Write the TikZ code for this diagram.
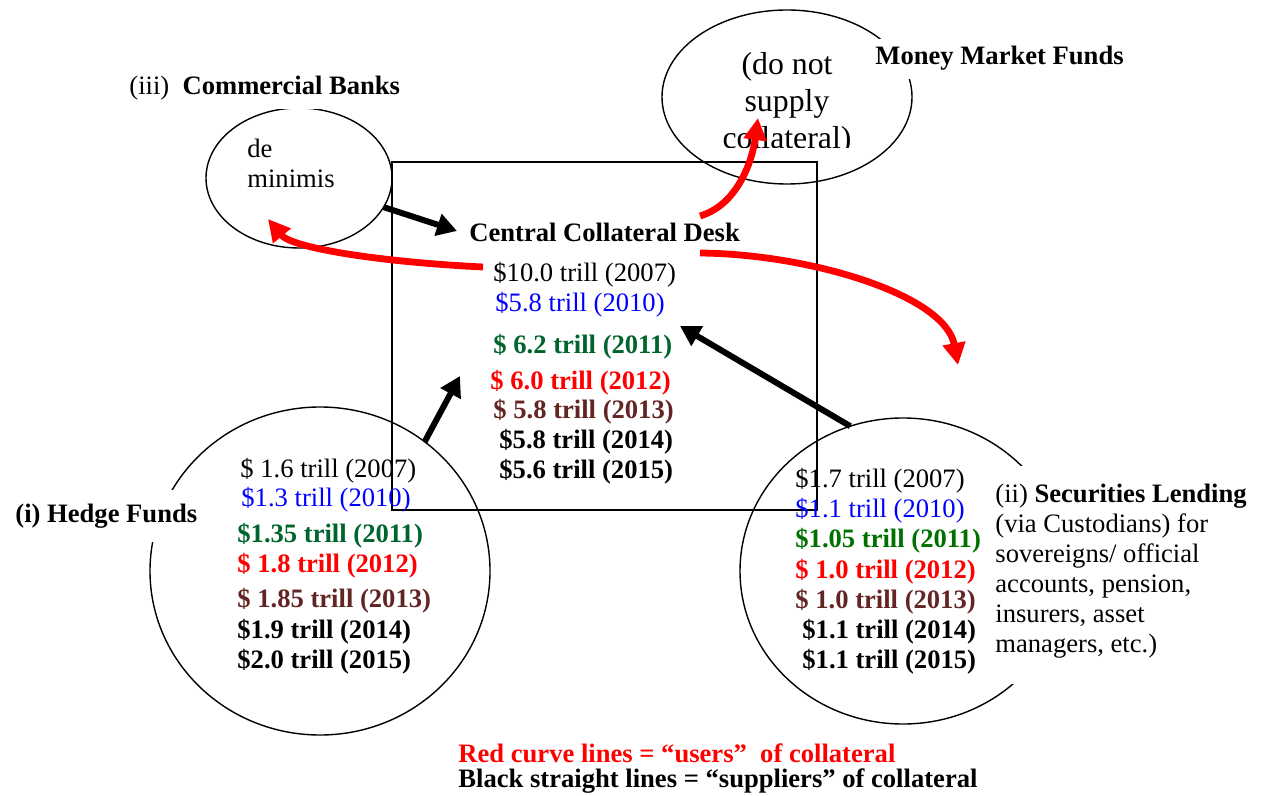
\documentclass[tikz,border=0pt]{standalone}
\usepackage{fontspec}
\setmainfont{Liberation Serif}
\usetikzlibrary{shapes.geometric,arrows.meta}
\definecolor{hgreen}{RGB}{0,100,45}
\definecolor{sgreen}{RGB}{0,112,0}
\definecolor{brn}{RGB}{99,37,35}
\definecolor{blu}{RGB}{0,0,255}
\definecolor{rd}{RGB}{255,0,0}
\begin{document}
\begin{tikzpicture}[x=0.5pt,y=-0.5pt,
  tx/.style={font=\fontsize{13.3}{15}\selectfont, inner sep=0pt, anchor=base west},
  bx/.style={font=\fontsize{13.3}{15}\selectfont\bfseries, inner sep=0pt, anchor=base west},
  shp/.style={ellipse, draw, line width=0.7pt, inner sep=0pt, outer sep=0pt},
  lbl/.style={fill=white, inner xsep=3pt, inner ysep=4pt, anchor=base west, font=\fontsize{13.3}{15}\selectfont},
  blk/.style={line width=3pt, -{Triangle[length=10pt,width=11pt]}},
  redc/.style={rd, line width=3.4pt, -{Triangle[length=11pt,width=11pt]}}]
\useasboundingbox (0,0) rectangle (1272,796);

% central desk box
\node[draw, line width=0.7pt, minimum width=212.5pt, minimum height=174pt, inner sep=0pt] (desk) at (604.5,336) {};

% ellipses
\node[shp, minimum width=93pt, minimum height=70pt] (cb) at (299,178) {};
\node[shp, minimum width=125pt, minimum height=87pt] (mm) at (787,97) {};
\node[shp, minimum width=170pt, minimum height=164pt] (hf) at (320,571) {};
\node[shp, minimum width=163pt, minimum height=153pt] (sl) at (903,571) {};

% labels (white boxes)
\node[lbl] (cbl) at (123,95) {(iii)\ \ \textbf{Commercial Banks}};
\node[lbl] (mml) at (869,65) {\textbf{Money Market Funds}};
\node[lbl, inner ysep=7pt] (hfl) at (9,522) {\textbf{(i) Hedge Funds}};
\fill[white] (1000,466) rectangle (1270,684);
\node[tx] (sl1) at (995,502) {(ii) \textbf{Securities Lending}};
\node[tx] (sl2) at (995,532) {(via Custodians) for};
\node[tx] (sl3) at (995,562) {sovereigns/ official};
\node[tx] (sl4) at (995,592) {accounts, pension,};
\node[tx] (sl5) at (995,622) {insurers, asset};
\node[tx] (sl6) at (995,652) {managers, etc.)};

% commercial banks text
\node[tx] (dm1) at (247,158) {de};
\node[tx] (dm2) at (247,188) {minimis};

% money market text (clipped)
\begin{scope}
\clip (650,0) rectangle (920,148);
\node[font=\fontsize{15.9}{18}\selectfont, inner sep=0pt, anchor=base] (mt1) at (787,75) {(do not};
\node[font=\fontsize{15.9}{18}\selectfont, inner sep=0pt, anchor=base] (mt2) at (787,112) {supply};
\node[font=\fontsize{15.9}{18}\selectfont, inner sep=0pt, anchor=base] (mt3) at (787,149) {collateral)};
\end{scope}

% central desk text
\node[bx] (c0) at (469,242) {Central Collateral Desk};
\node[tx] (c1) at (493,282) {\$10.0 trill (2007)};
\node[tx, blu] (c2) at (495,312) {\$5.8 trill (2010)};
\node[bx, hgreen] (c3) at (493,353) {\$ 6.2 trill (2011)};
\node[bx, rd] (c4) at (490,389) {\$ 6.0 trill (2012)};
\node[bx, brn] (c5) at (493,418) {\$ 5.8 trill (2013)};
\node[bx] (c6) at (499,448) {\$5.8 trill (2014)};
\node[bx] (c7) at (499,478) {\$5.6 trill (2015)};

% hedge funds text
\node[tx] (h1) at (240,477) {\$ 1.6 trill (2007)};
\node[tx, blu] (h2) at (241,506) {\$1.3 trill (2010)};
\node[bx, hgreen] (h3) at (237,542) {\$1.35 trill (2011)};
\node[bx, rd] (h4) at (237,572) {\$ 1.8 trill (2012)};
\node[bx, brn] (h5) at (237,607) {\$ 1.85 trill (2013)};
\node[bx] (h6) at (237,638) {\$1.9 trill (2014)};
\node[bx] (h7) at (237,668) {\$2.0 trill (2015)};

% securities lending text
\node[tx] (s1) at (795,487) {\$1.7 trill (2007)};
\node[tx, blu] (s2) at (795,517) {\$1.1 trill (2010)};
\node[bx, sgreen] (s3) at (795,547) {\$1.05 trill (2011)};
\node[bx, rd] (s4) at (795,578) {\$ 1.0 trill (2012)};
\node[bx, brn] (s5) at (795,608) {\$ 1.0 trill (2013)};
\node[bx] (s6) at (802,638) {\$1.1 trill (2014)};
\node[bx] (s7) at (802,668) {\$1.1 trill (2015)};

% legend
\node[bx, rd] (lg1) at (458,762) {Red curve lines = “users”\ \ of collateral};
\node[bx] (lg2) at (458,787) {Black straight lines = “suppliers” of collateral};

% black supplier arrows
\coordinate (t1) at (457,231);
\coordinate (t2) at (460,376);
\coordinate (t3) at (680,326);
\draw[blk] (cb.-19) -- (t1);
\draw[blk] (hf.51) -- (t2);
\draw[blk] (sl.110) -- (t3);

% red user curves
\coordinate (r1s) at (483,267);
\coordinate (r1e) at (268,219);
\coordinate (r2s) at (700,216);
\coordinate (r2e) at (758,118);
\coordinate (r3s) at (700,253);
\coordinate (r3e) at (958,365);
\draw[redc] (r1s) .. controls (380,262) and (292,248) .. (r1e);
\draw[redc] (r2s) .. controls (737,205) and (752,162) .. (r2e);
\draw[redc] (r3s) .. controls (810,254) and (945,295) .. (r3e);
\end{tikzpicture}
\end{document}
